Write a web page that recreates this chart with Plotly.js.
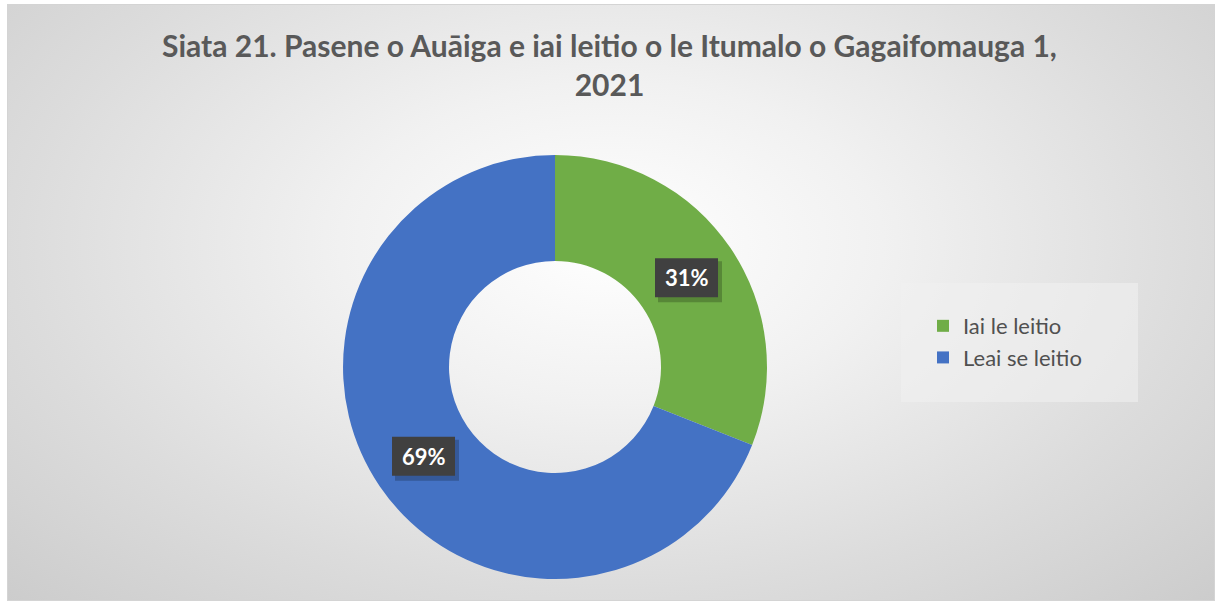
<!DOCTYPE html>
<html>
<head>
<meta charset="utf-8">
<script src="https://cdn.plot.ly/plotly-3.0.1.min.js"></script>
<style>
  html, body { margin:0; padding:0; background:#ffffff; }
  #wrap { position:absolute; left:0; top:0; width:1219px; height:604px; }
  #frame { position:absolute; left:7px; top:4px; width:1206px; height:595px;
    border:1px solid #d4d4d4;
    background: radial-gradient(ellipse 75% 90% at 50% 40%, #ffffff 0%, #f1f1f1 30%, #dcdcdc 65%, #c9c9c9 100%); }
  #chart { position:absolute; left:0; top:0; width:1219px; height:604px; }
</style>
</head>
<body>
<div id="wrap">
  <div id="frame"></div>
  <div id="chart"></div>
</div>
<script>
const categories = ["Iai le leitio", "Leai se leitio"];
const values = [31, 69];
const colors = ["#70ad47", "#4472c4"];
const titleText = "Siata 21. Pasene o Auāiga e iai leitio o le Itumalo o Gagaifomauga 1,<br>2021";

const W = 1219, H = 604;
const dom = { x: [0.2814, 0.6292], y: [0.0414, 0.7434] };
const hole = 0.5;

const total = values.reduce((a, b) => a + b, 0);
const cxPx = (dom.x[0] + dom.x[1]) / 2 * W;
const cyPx = (dom.y[0] + dom.y[1]) / 2 * H;
const rPx = Math.min((dom.x[1] - dom.x[0]) * W, (dom.y[1] - dom.y[0]) * H) / 2;
const rLab = rPx * (1 + hole) / 2;
let cum = 0;
const annotations = [];
const shapes = [{
  type: "rect", xref: "paper", yref: "paper",
  x0: 901 / W, x1: 1138 / W, y0: 1 - 402 / H, y1: 1 - 283 / H,
  fillcolor: "rgba(240,240,240,0.6)", line: { width: 0 }, layer: "below"
}];
const boxW = 63, boxH = 39;
values.forEach((v, i) => {
  const mid = (cum + v / 2) / total * 2 * Math.PI;
  cum += v;
  const px = cxPx + rLab * Math.sin(mid);
  const py = cyPx + rLab * Math.cos(mid);
  const txt = Math.round(v / total * 100) + "%";
  shapes.push({
    type: "rect", xref: "paper", yref: "paper",
    x0: (px - boxW / 2 + 3) / W, x1: (px + boxW / 2 + 4) / W,
    y0: (py - boxH / 2 - 5) / H, y1: (py + boxH / 2 - 3) / H,
    fillcolor: "rgba(0,0,0,0.22)", line: { width: 0 }, layer: "above"
  });
  shapes.push({
    type: "rect", xref: "paper", yref: "paper",
    x0: (px - boxW / 2) / W, x1: (px + boxW / 2) / W,
    y0: (py - boxH / 2) / H, y1: (py + boxH / 2) / H,
    fillcolor: "#404040", line: { width: 0 }, layer: "above"
  });
  annotations.push({
    x: px / W, y: py / H, xref: "paper", yref: "paper",
    xanchor: "center", yanchor: "middle",
    text: "<b>" + txt + "</b>", showarrow: false,
    font: { family: "Lato, 'Open Sans', sans-serif", size: 22, color: "#ffffff" }
  });
});

const trace = {
  type: "pie",
  labels: categories,
  values: values,
  marker: { colors: colors, line: { color: "#ffffff", width: 0 } },
  hole: hole,
  sort: false,
  direction: "clockwise",
  rotation: 0,
  textinfo: "none",
  domain: dom,
  hoverinfo: "label+percent"
};

const layout = {
  width: W, height: H,
  margin: { l: 0, r: 0, t: 0, b: 0 },
  paper_bgcolor: "rgba(0,0,0,0)",
  plot_bgcolor: "rgba(0,0,0,0)",
  title: {
    text: "<b>" + titleText + "</b>",
    font: { family: "Lato, 'Open Sans', sans-serif", size: 30, color: "#595959" },
    x: 0.5, xanchor: "center", y: 0.906, yanchor: "top", yref: "container"
  },
  showlegend: true,
  legend: {
    x: 0.7572, xanchor: "left", y: 0.495, yanchor: "top",
    bgcolor: "rgba(0,0,0,0)",
    font: { family: "Lato, 'Open Sans', sans-serif", size: 22, color: "#505050" },
    traceorder: "normal"
  },
  shapes: shapes,
  annotations: annotations
};

Plotly.newPlot("chart", [trace], layout, { displayModeBar: false, staticPlot: true });
</script>
</body>
</html>
